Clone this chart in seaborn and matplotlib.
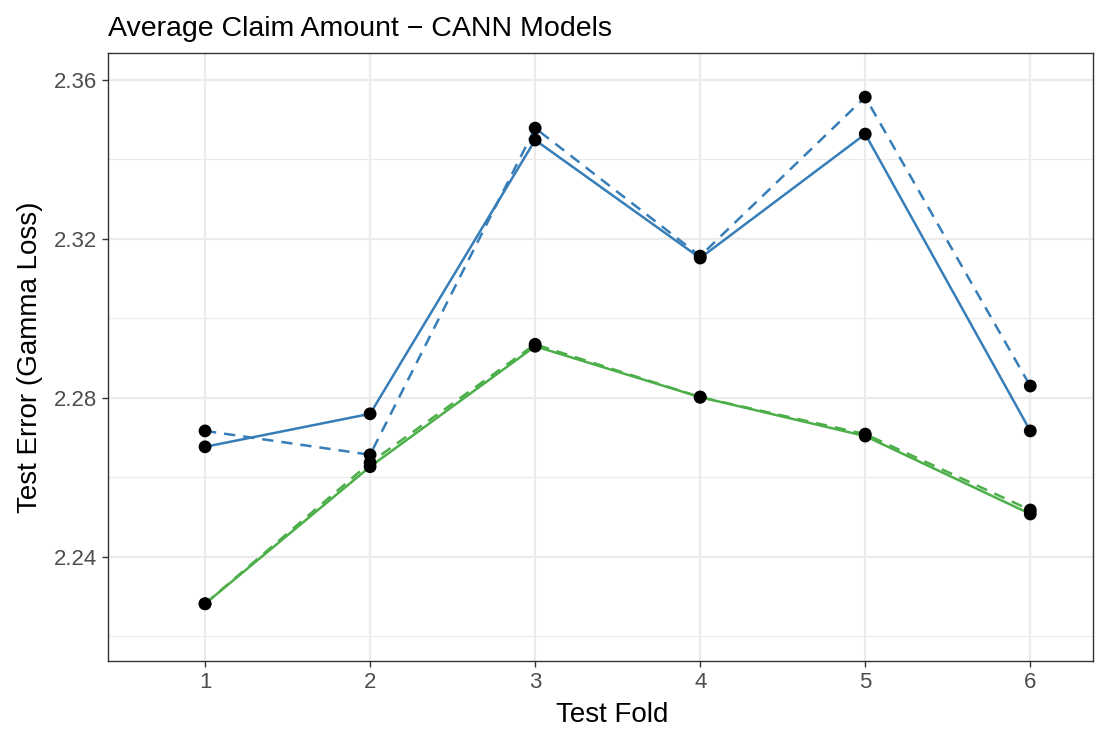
import numpy as np
import pandas as pd
import matplotlib
matplotlib.use("Agg")
import matplotlib.pyplot as plt
import seaborn as sns

folds = [1, 2, 3, 4, 5, 6]
blue_solid = [2.2677, 2.2760, 2.3449, 2.3152, 2.3464, 2.2717]
blue_dashed = [2.2717, 2.2657, 2.3479, 2.3157, 2.3557, 2.2830]
green_solid = [2.2282, 2.2627, 2.2930, 2.2802, 2.2704, 2.2508]
green_dashed = [2.2282, 2.2637, 2.2935, 2.2802, 2.2709, 2.2518]

series = {
    ("blue", "solid"): blue_solid,
    ("blue", "dashed"): blue_dashed,
    ("green", "solid"): green_solid,
    ("green", "dashed"): green_dashed,
}
rows = []
for (grp, sty), vals in series.items():
    for f, v in zip(folds, vals):
        rows.append({"fold": f, "loss": v, "group": grp, "style": sty})
df = pd.DataFrame(rows)

sns.set_theme(style="white")
plt.rcParams['font.family'] = ['Liberation Sans', 'DejaVu Sans']

fig = plt.figure(figsize=(11.04, 7.31), dpi=100)
ax = fig.add_axes([108/1104, 1-661/731, (1093-108)/1104, (661-53)/731])

palette = {"blue": "#377EB8", "green": "#4DAF4A"}
sns.lineplot(data=df, x="fold", y="loss", hue="group", style="style",
             palette=palette, dashes={"solid": "", "dashed": (4.5, 3.2)},
             linewidth=1.8, ax=ax, legend=False, zorder=3)
sns.scatterplot(data=df, x="fold", y="loss", color="black", s=85,
                edgecolor="none", ax=ax, legend=False, zorder=4)

ax.set_xlim(0.412, 6.38)
ax.set_ylim(2.2138, 2.3668)
ax.set_xticks(folds)
ax.set_yticks([2.24, 2.28, 2.32, 2.36])
ax.set_yticklabels(["2.24", "2.28", "2.32", "2.36"])
ax.set_yticks([2.22, 2.26, 2.30, 2.34], minor=True)

ax.grid(True, which="major", color="#EBEBEB", linewidth=1.6, zorder=0)
ax.grid(True, which="minor", axis="y", color="#EBEBEB", linewidth=0.8, zorder=0)
ax.set_axisbelow(True)
for sp in ax.spines.values():
    sp.set_color("#333333")
    sp.set_linewidth(1.0)

ax.tick_params(axis="both", which="major", length=4, width=1, color="#333333",
               labelsize=16, labelcolor="#4D4D4D", bottom=True, left=True, pad=4)
ax.tick_params(axis="y", which="minor", length=0)

ax.set_xlabel("Test Fold", fontsize=20, color="black", labelpad=3)
ax.xaxis.set_label_coords((612 - 108) / 985, -0.068)
ax.set_ylabel("Test Error (Gamma Loss)", fontsize=20, color="black", labelpad=8)
ax.set_title("Average Claim Amount \u2212 CANN Models", fontsize=20.5, loc="left",
             color="black", pad=12)

fig.savefig("out.png", dpi=100)
